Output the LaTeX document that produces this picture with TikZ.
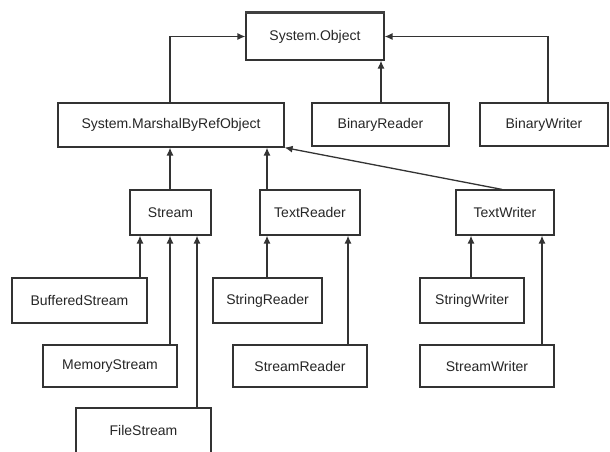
\documentclass[tikz,border=0pt]{standalone}
\usepackage{fontspec}
\setmainfont{Liberation Sans}
\usetikzlibrary{arrows.meta}
\tikzset{
  cls/.style={draw=black!80, line width=1.2pt, fill=white, inner sep=0pt, text=black!85,
    font=\fontsize{14}{16}\selectfont},
  arr/.style={draw=black!80, line width=1.3pt, -{Latex[length=8pt,width=7pt]}},
}
\begin{document}
\begin{tikzpicture}[x=1pt,y=-1pt]
\useasboundingbox (0,0) rectangle (610,451);
\node[cls, minimum width=138pt, minimum height=47pt] (obj) at (315,36.5) {System.Object};
\node[cls, minimum width=226pt, minimum height=44pt] (mbr) at (171,125) {System.MarshalByRefObject};
\node[cls, minimum width=137pt, minimum height=43pt] (br) at (380.5,124.5) {BinaryReader};
\node[cls, minimum width=128pt, minimum height=43pt] (bw) at (544,124.5) {BinaryWriter};
\node[cls, minimum width=81pt, minimum height=45pt] (stream) at (170.5,212.5) {Stream};
\node[cls, minimum width=100pt, minimum height=45pt] (tr) at (310,212.5) {TextReader};
\node[cls, minimum width=98pt, minimum height=45pt] (tw) at (505,212.5) {TextWriter};
\node[cls, minimum width=135pt, minimum height=45pt] (bs) at (79.5,300.5) {BufferedStream};
\node[cls, minimum width=134pt, minimum height=42pt] (ms) at (110,366) {MemoryStream};
\node[cls, minimum width=135pt, minimum height=45pt] (fs) at (143.5,430.5) {FileStream};
\node[cls, minimum width=109pt, minimum height=45pt] (sr) at (267.5,300.5) {StringReader};
\node[cls, minimum width=134pt, minimum height=42pt] (sread) at (300,366) {StreamReader};
\node[cls, minimum width=104pt, minimum height=45pt] (sw) at (472,300.5) {StringWriter};
\node[cls, minimum width=134pt, minimum height=42pt] (swr) at (487,366) {StreamWriter};
% thick top edge of System.Object
\draw[black!75, line width=3pt] (obj.north west) -- (obj.north east);
% connectors
\draw[arr] (mbr.north -| 170,0) |- (obj.west);
\draw[arr] (br.north -| 381,0) -- (obj.south -| 381,0);
\draw[arr] (bw.north -| 548,0) |- (obj.east);
\draw[arr] (stream.north -| 170,0) -- (mbr.south -| 170,0);
\draw[arr] (tr.north -| 267,0) -- (mbr.south -| 267,0);
\draw[arr] (tw.north -| 502,0) -- (mbr.south east);
\draw[arr] (bs.north -| 140,0) -- (stream.south -| 140,0);
\draw[arr] (ms.north -| 170,0) -- (stream.south -| 170,0);
\draw[arr] (fs.north -| 197,0) -- (stream.south -| 197,0);
\draw[arr] (sr.north -| 267,0) -- (tr.south -| 267,0);
\draw[arr] (sread.north -| 348,0) -- (tr.south -| 348,0);
\draw[arr] (sw.north -| 471,0) -- (tw.south -| 471,0);
\draw[arr] (swr.north -| 542,0) -- (tw.south -| 542,0);
\end{tikzpicture}
\end{document}
